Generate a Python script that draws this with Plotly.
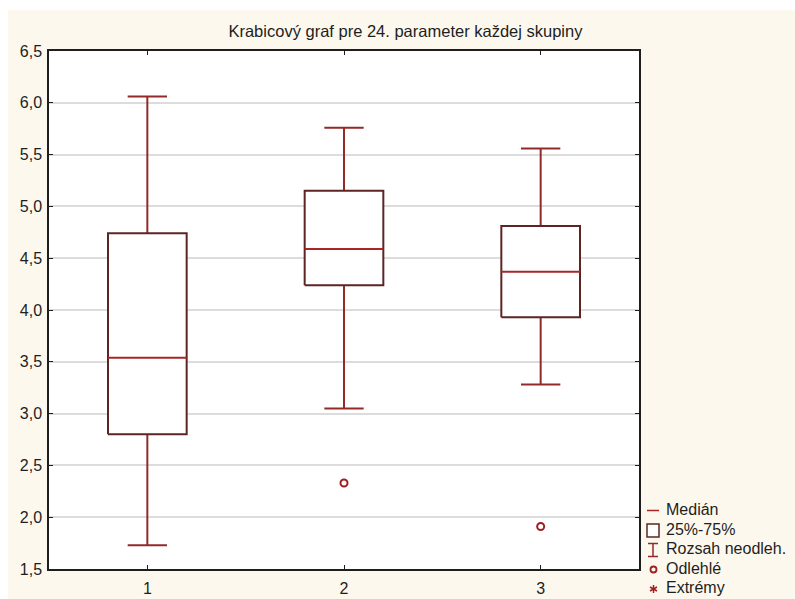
import plotly.graph_objects as go

# Box-plot summary of the 24th parameter for each group
groups = [1, 2, 3]
upper_whisker = [6.06, 5.76, 5.56]
q3 = [4.74, 5.15, 4.81]
median = [3.54, 4.59, 4.37]
q1 = [2.80, 4.24, 3.93]
lower_whisker = [1.73, 3.05, 3.28]

outlier_group = [2, 3]
outlier_value = [2.33, 1.91]

y_ticks = [1.5, 2.0, 2.5, 3.0, 3.5, 4.0, 4.5, 5.0, 5.5, 6.0, 6.5]
y_tick_text = ["1,5", "2,0", "2,5", "3,0", "3,5", "4,0", "4,5", "5,0", "5,5", "6,0", "6,5"]
x_tick_text = ["1", "2", "3"]

legend_labels = ["Medián", "25%-75%", "Rozsah neodleh.", "Odlehlé", "Extrémy"]

title_text = "Krabicový graf pre 24. parameter každej skupiny"

BOX_LINE = "#5e2424"
WHISKER = "#922a2a"
MEDIAN = "#a82626"
OUTLIER = "#a01e1e"
FONT = "Liberation Sans, Arial, sans-serif"
TEXT = "#1e1e1e"

BOX_HALF = 0.2
CAP_HALF = 0.1

# figure geometry (pixels)
W, H = 795, 599
PL, PR, PT, PB = 49, 639, 51, 569


def px_x(px):
    return (px - PL) / (PR - PL)


def px_y(py):
    return (PB - py) / (PB - PT)


fig = go.Figure()

# whiskers + caps
wx, wy = [], []
for g, lo, a, b, hi in zip(groups, lower_whisker, q1, q3, upper_whisker):
    wx += [g, g, None, g, g, None]
    wy += [b, hi, None, a, lo, None]
    wx += [g - CAP_HALF, g + CAP_HALF, None, g - CAP_HALF, g + CAP_HALF, None]
    wy += [hi, hi, None, lo, lo, None]
fig.add_trace(go.Scatter(x=wx, y=wy, mode="lines",
                         line=dict(color=WHISKER, width=2),
                         hoverinfo="skip", showlegend=False))

# boxes
for g, a, b in zip(groups, q1, q3):
    fig.add_trace(go.Scatter(
        x=[g - BOX_HALF, g + BOX_HALF, g + BOX_HALF, g - BOX_HALF, g - BOX_HALF],
        y=[a, a, b, b, a],
        mode="lines", fill="toself", fillcolor="white",
        line=dict(color=BOX_LINE, width=2),
        hoverinfo="skip", showlegend=False))

# medians
mx, my = [], []
for g, m in zip(groups, median):
    mx += [g - BOX_HALF, g + BOX_HALF, None]
    my += [m, m, None]
fig.add_trace(go.Scatter(x=mx, y=my, mode="lines",
                         line=dict(color=MEDIAN, width=2),
                         hoverinfo="skip", showlegend=False))

# outliers
fig.add_trace(go.Scatter(x=outlier_group, y=outlier_value, mode="markers",
                         marker=dict(symbol="circle-open", size=7,
                                     color=OUTLIER, line=dict(width=2)),
                         hoverinfo="skip", showlegend=False))

shapes = []
# cream page background and white plotting area
shapes.append(dict(type="rect", xref="paper", yref="paper", layer="below",
                   x0=px_x(8), x1=px_x(W + 5), y0=px_y(10), y1=px_y(H + 5),
                   fillcolor="#fdf8ed", line=dict(width=0)))
shapes.append(dict(type="rect", xref="paper", yref="paper", layer="below",
                   x0=0, x1=1, y0=0, y1=1,
                   fillcolor="white", line=dict(width=0)))

# legend symbols and labels
row_y = [510.5, 530.5, 550, 569.5, 589]
sx0, sx1, scx = 647, 659, 653
shapes.append(dict(type="line", xref="paper", yref="paper",
                   x0=px_x(sx0), x1=px_x(sx1), y0=px_y(row_y[0]), y1=px_y(row_y[0]),
                   line=dict(color=MEDIAN, width=1.5)))
shapes.append(dict(type="rect", xref="paper", yref="paper",
                   x0=px_x(sx0), x1=px_x(sx1), y0=px_y(row_y[1] - 6.5), y1=px_y(row_y[1] + 6.5),
                   fillcolor="white", line=dict(color=BOX_LINE, width=1.5)))
for seg in [((scx, row_y[2] - 6.5), (scx, row_y[2] + 6.5)),
            ((sx0 + 1, row_y[2] - 6.5), (sx1 - 1, row_y[2] - 6.5)),
            ((sx0 + 1, row_y[2] + 6.5), (sx1 - 1, row_y[2] + 6.5))]:
    (ax, ay), (bx, by) = seg
    shapes.append(dict(type="line", xref="paper", yref="paper",
                       x0=px_x(ax), x1=px_x(bx), y0=px_y(ay), y1=px_y(by),
                       line=dict(color=WHISKER, width=1.5)))
shapes.append(dict(type="circle", xref="paper", yref="paper",
                   x0=px_x(scx - 2.5), x1=px_x(scx + 3.5),
                   y0=px_y(row_y[3] - 3), y1=px_y(row_y[3] + 3),
                   line=dict(color=OUTLIER, width=1.8)))
cx, cy, r = scx + 0.5, row_y[4], 4
for dx, dy in [(0, 1), (0.866, 0.5), (0.866, -0.5)]:
    shapes.append(dict(type="line", xref="paper", yref="paper",
                       x0=px_x(cx - r * dx), x1=px_x(cx + r * dx),
                       y0=px_y(cy - r * dy), y1=px_y(cy + r * dy),
                       line=dict(color=OUTLIER, width=1.5)))

annotations = []
for label, yy in zip(legend_labels, row_y):
    annotations.append(dict(text=label, xref="paper", yref="paper",
                            x=px_x(664), y=px_y(yy - 1.5), xanchor="left", yanchor="middle",
                            showarrow=False, font=dict(family=FONT, size=16, color=TEXT)))

fig.update_layout(
    width=W, height=H,
    margin=dict(l=PL, r=W - PR, t=PT, b=H - PB, pad=0, autoexpand=False),
    paper_bgcolor="white", plot_bgcolor="rgba(0,0,0,0)",
    showlegend=False,
    title=dict(text=title_text, xref="container", yref="container",
               x=0.51, y=1 - 31 / H, xanchor="center", yanchor="middle",
               font=dict(family=FONT, size=16.5, color=TEXT)),
    font=dict(family=FONT, size=16, color=TEXT),
    shapes=shapes, annotations=annotations,
    xaxis=dict(range=[0.5, 3.5], tickvals=groups, ticktext=x_tick_text,
               showgrid=False, zeroline=False, automargin=False,
               showline=True, linecolor="#1e1e1e", linewidth=1.5, mirror="ticks",
               ticks="inside", ticklen=4, tickcolor="#1e1e1e", tickwidth=1,
               ticklabelstandoff=4,
               tickfont=dict(family=FONT, size=16, color=TEXT)),
    yaxis=dict(range=[1.5, 6.5], tickvals=y_ticks, ticktext=y_tick_text,
               showgrid=True, gridcolor="#dcdcdc", gridwidth=1.5, zeroline=False,
               automargin=False,
               showline=True, linecolor="#1e1e1e", linewidth=1.5, mirror="ticks",
               ticks="inside", ticklen=4, tickcolor="#1e1e1e", tickwidth=1,
               ticklabelstandoff=2,
               tickfont=dict(family=FONT, size=16, color=TEXT)),
)

fig.write_html("out.html")
